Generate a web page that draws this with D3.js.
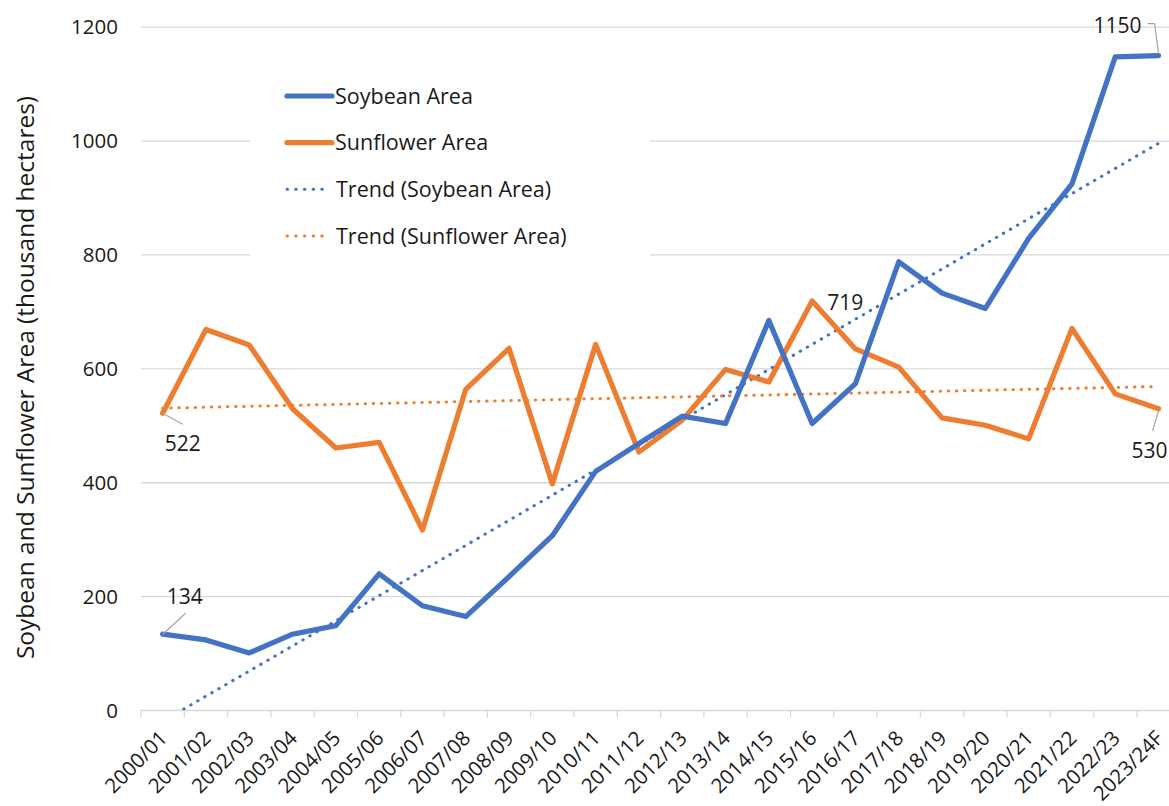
<!DOCTYPE html>
<html>
<head>
<meta charset="utf-8">
<script src="https://cdn.jsdelivr.net/npm/d3@7"></script>
<style>
  html, body { margin: 0; padding: 0; background: #fff; }
  svg { display: block; }
  text { font-family: "Open Sans", "Noto Sans", sans-serif; fill: #1a1a1a; }
</style>
</head>
<body>
<svg id="chart" width="1169" height="806"></svg>
<script>
// ---- data ----
const categories = ["2000/01","2001/02","2002/03","2003/04","2004/05","2005/06","2006/07","2007/08",
  "2008/09","2009/10","2010/11","2011/12","2012/13","2013/14","2014/15","2015/16","2016/17",
  "2017/18","2018/19","2019/20","2020/21","2021/22","2022/23","2023/24F"];
const soybeanArea = [134,124,101,134,149,240,184,165,235,307,420,469,517,504,685,504,574,788,733,706,829,925,1148,1150];
const sunflowerArea = [522,669,642,530,461,471,317,564,636,398,643,454,510,599,577,719,635,603,514,501,477,671,556,530];
const yTicks = [0,200,400,600,800,1000,1200];
const seriesNames = ["Soybean Area","Sunflower Area","Trend (Soybean Area)","Trend (Sunflower Area)"];

// ---- layout ----
const W = 1169, H = 806;
const plotLeft = 141, plotRight = 1180.2, plotTop = 27.2, plotBottom = 710.5;
const blue = "#4472C4", orange = "#ED7D31", grid = "#d9d9d9";

const svg = d3.select("#chart");

const xBand = d3.scaleBand().domain(categories).range([plotLeft, plotRight]).padding(0);
const xc = d => xBand(d) + xBand.bandwidth() / 2;
const y = d3.scaleLinear().domain([0, 1200]).range([plotBottom, plotTop]);

// gridlines
svg.append("g").selectAll("line").data(yTicks.filter(t => t > 0)).join("line")
  .attr("x1", plotLeft).attr("x2", W + 20)
  .attr("y1", d => y(d)).attr("y2", d => y(d))
  .attr("stroke", grid).attr("stroke-width", 1.3);

// y axis labels
const yAxis = d3.axisLeft(y).tickValues(yTicks).tickSize(0).tickPadding(0).tickFormat(d3.format("d"));
const gy = svg.append("g").attr("transform", "translate(118,0)").call(yAxis);
gy.select(".domain").remove();
gy.selectAll("text").attr("font-size", 20.5).attr("font-family", "'Open Sans', sans-serif").attr("fill", "#1a1a1a");

// x axis
const gx = svg.append("g").attr("transform", `translate(0,${plotBottom})`);
gx.append("line").attr("x1", plotLeft).attr("x2", W + 20).attr("y1", 0).attr("y2", 0)
  .attr("stroke", grid).attr("stroke-width", 1.3);
const boundaries = categories.map(c => xBand(c)).concat([xBand(categories[categories.length - 1]) + xBand.bandwidth()]);
gx.selectAll("line.tk").data(boundaries).join("line").attr("class", "tk")
  .attr("x1", d => d).attr("x2", d => d).attr("y1", 0).attr("y2", 7)
  .attr("stroke", grid).attr("stroke-width", 1.3);
gx.selectAll("text.xl").data(categories).join("text").attr("class", "xl")
  .attr("transform", d => `translate(${xc(d) + 6},${29}) rotate(-45)`)
  .attr("text-anchor", "end").attr("font-size", 20.5).text(d => d);

// y axis title
svg.append("text")
  .attr("transform", `translate(34,${(94 + 661) / 2}) rotate(-90)`)
  .attr("text-anchor", "middle").attr("font-size", 24.5)
  .text("Soybean and Sunflower Area (thousand hectares)");

// clip
svg.append("clipPath").attr("id", "clip").append("rect")
  .attr("x", plotLeft).attr("y", plotTop - 10).attr("width", plotRight - plotLeft).attr("height", plotBottom - plotTop + 10);

// trend lines (least squares on index)
function linreg(vals) {
  const xs = vals.map((_, i) => i);
  const mx = d3.mean(xs), my = d3.mean(vals);
  let sxy = 0, sxx = 0;
  xs.forEach((xv, i) => { sxy += (xv - mx) * (vals[i] - my); sxx += (xv - mx) * (xv - mx); });
  const b = sxy / sxx, a = my - b * mx;
  return i => a + b * i;
}
const plotG = svg.append("g").attr("clip-path", "url(#clip)");
const step = xBand.bandwidth();
const xi = i => xc(categories[0]) + i * step;
[[soybeanArea, blue], [sunflowerArea, orange]].forEach(([vals, col]) => {
  const f = linreg(vals);
  plotG.append("line")
    .attr("x1", xi(0)).attr("y1", y(f(0)))
    .attr("x2", xi(vals.length - 1)).attr("y2", y(f(vals.length - 1)))
    .attr("stroke", col).attr("stroke-width", 3)
    .attr("stroke-dasharray", "0.5 7.6").attr("stroke-linecap", "round");
});

// series lines
const line = d3.line().x((d, i) => xc(categories[i])).y(d => y(d));
plotG.append("path").datum(sunflowerArea).attr("d", line)
  .attr("fill", "none").attr("stroke", orange).attr("stroke-width", 5.2)
  .attr("stroke-linejoin", "round").attr("stroke-linecap", "round");
plotG.append("path").datum(soybeanArea).attr("d", line)
  .attr("fill", "none").attr("stroke", blue).attr("stroke-width", 5.2)
  .attr("stroke-linejoin", "round").attr("stroke-linecap", "round");

// data labels
const labelDefs = [
  { vals: soybeanArea, i: 0, tx: 4, ty: -30, leader: [[0, 0], [23, -21]] },
  { vals: sunflowerArea, i: 0, tx: 2, ty: 38, leader: [[0, 0], [20, 11]] },
  { vals: sunflowerArea, i: 15, tx: 15, ty: 9, leader: null },
  { vals: sunflowerArea, i: 23, tx: -27, ty: 49, leader: [[0, 2], [-6, 22]] },
  { vals: soybeanArea, i: 23, tx: -65, ty: -23, leader: [[-11, -32], [-4, -32], [0, -2]] }
];
const lg = svg.append("g");
labelDefs.forEach(l => {
  const px = xc(categories[l.i]), py = y(l.vals[l.i]);
  if (l.leader) {
    lg.append("path")
      .attr("d", d3.line()(l.leader.map(p => [px + p[0], py + p[1]])))
      .attr("fill", "none").attr("stroke", "#a6a6a6").attr("stroke-width", 1.2);
  }
  lg.append("text").attr("x", px + l.tx).attr("y", py + l.ty)
    .attr("font-size", 21).text(l.vals[l.i]);
});

// legend
const leg = svg.append("g");
leg.append("rect").attr("x", 250).attr("y", 66).attr("width", 400).attr("height", 196).attr("fill", "#fff");
const legRows = [
  { name: seriesNames[0], col: blue, dotted: false },
  { name: seriesNames[1], col: orange, dotted: false },
  { name: seriesNames[2], col: blue, dotted: true },
  { name: seriesNames[3], col: orange, dotted: true }
];
const legY = d3.scalePoint().domain(legRows.map(d => d.name)).range([96, 236]);
legRows.forEach(r => {
  const yy = legY(r.name);
  if (r.dotted) {
    leg.append("line").attr("x1", 287).attr("x2", 329).attr("y1", yy).attr("y2", yy)
      .attr("stroke", r.col).attr("stroke-width", 3)
      .attr("stroke-dasharray", "0.5 8.2").attr("stroke-linecap", "round");
  } else {
    leg.append("line").attr("x1", 287).attr("x2", 332).attr("y1", yy).attr("y2", yy)
      .attr("stroke", r.col).attr("stroke-width", 5.2).attr("stroke-linecap", "round");
  }
  leg.append("text").attr("x", r.dotted ? 336 : 335).attr("y", yy + 7.5).attr("font-size", 21.5).text(r.name);
});
</script>
</body>
</html>
